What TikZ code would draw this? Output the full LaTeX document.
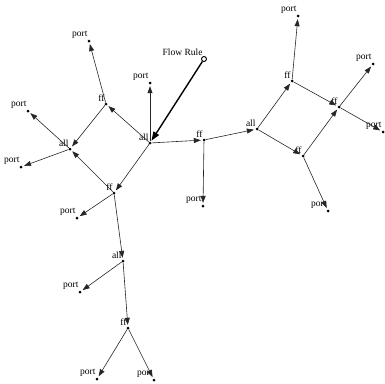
\documentclass[tikz,border=0pt]{standalone}
\usepackage{fontspec}
\setmainfont{Liberation Serif}
\usetikzlibrary{arrows.meta}
\tikzset{
  pt/.style={circle,fill=black,inner sep=0pt,minimum size=3pt},
  lbl/.style={anchor=south east,inner sep=0.3pt,font=\fontsize{9.5}{9.5}\selectfont},
  e/.style={-{Triangle[length=7pt,width=5pt]},line width=0.6pt,draw=black!85,shorten >=1.5pt},
  thk/.style={-{Triangle[length=9pt,width=6.5pt]},line width=1.4pt,shorten >=1pt},
  fr/.style={circle,draw=black,line width=0.9pt,fill=white,inner sep=0pt,minimum size=5pt}
}
\newcommand\dotn[4]{\node[pt] (#1) at (#2,#3) {}; \node[lbl] at ([xshift=-1pt,yshift=2pt]#1.center) {#4};}
\begin{document}
\begin{tikzpicture}[x=1pt,y=-1pt]
\useasboundingbox (0,0) rectangle (385,383);
\dotn{a0}{150}{143}{all}
\node[fr] (fr) at (204,59) {};
\node[lbl] at ([xshift=-1pt,yshift=3pt]fr.center) {Flow Rule};
\dotn{p0}{150}{83}{port}
\dotn{f1}{106}{104}{ff}
\dotn{p1}{89}{41}{port}
\dotn{a1}{70}{149}{all}
\dotn{p2}{28}{111}{port}
\dotn{p3}{21}{167}{port}
\dotn{f2}{114}{193}{ff}
\dotn{p4}{77}{218}{port}
\dotn{a2}{123}{261}{all}
\dotn{p5}{80}{292}{port}
\dotn{f3}{128}{328}{ff}
\dotn{p6}{97}{379}{port}
\dotn{p7}{154}{380}{port}
\dotn{f4}{204}{140}{ff}
\dotn{p8}{203}{206}{port}
\dotn{a3}{257}{129}{all}
\dotn{f5}{292}{81}{ff}
\dotn{p9}{298}{16}{port}
\dotn{f6}{339}{107}{ff}
\dotn{p10}{373}{64}{port}
\dotn{p11}{383}{132}{port}
\dotn{f7}{303}{156}{ff}
\dotn{p12}{328}{211}{port}
\draw[thk] (fr) -- (a0);
\foreach \s/\t in {a0/p0,a0/f1,f1/p1,f1/a1,a1/p2,a1/p3,a0/f2,f2/a1,f2/p4,f2/a2,a2/p5,a2/f3,f3/p6,f3/p7,a0/f4,f4/p8,f4/a3,a3/f5,f5/p9,f5/f6,f6/p10,f6/p11,a3/f7,f7/f6,f7/p12}
  \draw[e] (\s) -- (\t);
\end{tikzpicture}
\end{document}
